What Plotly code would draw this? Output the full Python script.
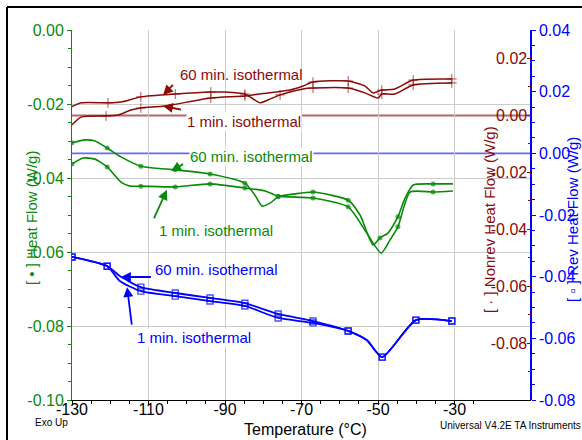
import plotly.graph_objects as go

# ---------------- data ----------------
# Total heat flow (left axis, W/g) - green
g60_T = [-130, -126.6, -124, -120.8, -117.2, -112, -103, -93.9, -84.8, -82.2, -80.3, -78.2, -76.1, -71.7,
         -67, -57.8, -54.7, -51.3, -49.5, -47.4, -44.8, -42.9, -40.8, -35.6, -30.4]
g60_v = [-0.0305, -0.0297, -0.0300, -0.0319, -0.0343, -0.0368, -0.0378, -0.0389, -0.0414, -0.0446, -0.0476,
         -0.0468, -0.0451, -0.0443, -0.0438, -0.0460, -0.0500, -0.0581, -0.0562, -0.0549, -0.0505, -0.0454,
         -0.0419, -0.0416, -0.0416]
g60_mark = [1, 0, 0, 1, 0, 1, 1, 1, 1, 0, 0, 0, 1, 0, 1, 1, 0, 0, 1, 0, 1, 0, 0, 1, 0]

g1_T = [-130, -127.1, -124, -120.8, -117.2, -114.8, -112, -103, -93.9, -84.8, -79.5, -76.1, -67, -57.8,
        -53.4, -49.2, -46.9, -44.8, -41.6, -35.6, -30.4]
g1_v = [-0.0362, -0.0346, -0.0349, -0.0370, -0.0411, -0.0422, -0.0422, -0.0424, -0.0416, -0.0427, -0.0435,
        -0.0449, -0.0454, -0.0478, -0.0541, -0.0603, -0.0568, -0.0532, -0.0438, -0.0438, -0.0435]
g1_mark = [1, 0, 0, 1, 0, 0, 1, 1, 1, 1, 0, 1, 1, 1, 0, 0, 0, 1, 0, 1, 0]

# Nonreversing heat flow (right inner axis, W/g) - dark red
r60_T = [-130.3, -127.6, -120.6, -117.2, -112, -103, -93.7, -90, -84.8, -83, -80.8, -78.8, -75.6, -69.6,
         -67, -57.8, -53.4, -50, -49, -45.6, -40.8, -30.7]
r60_v = [0.0029, 0.0044, 0.0044, 0.0047, 0.0065, 0.0075, 0.0082, 0.0082, 0.0075, 0.0061, 0.0044, 0.0054,
         0.0072, 0.0093, 0.0096, 0.0096, 0.0079, 0.0061, 0.0075, 0.0075, 0.0107, 0.0114]
r60_mark = [0, 0, 1, 0, 1, 1, 1, 0, 1, 0, 0, 0, 1, 0, 1, 1, 0, 0, 1, 0, 1, 1]

r1_T = [-130.3, -127.6, -121.1, -118, -114.6, -112, -105.7, -93.7, -84.8, -78.8, -73, -69.6, -67, -57.8,
        -53.4, -51.3, -49, -45.6, -40.8, -30.7]
r1_v = [-0.0037, -0.0006, -0.0002, 0.0001, 0.0019, 0.0026, 0.0033, 0.0061, 0.0068, 0.0079, 0.0089, 0.0103,
        0.0117, 0.0121, 0.0103, 0.0079, 0.0089, 0.0093, 0.0124, 0.0128]
r1_mark = [0, 0, 1, 0, 0, 1, 0, 1, 1, 0, 0, 0, 1, 1, 0, 0, 1, 0, 1, 1]

# Reversing heat flow (right outer axis, W/g) - blue
b_T = [-130, -120.8, -117.5, -112, -103, -93.9, -84.8, -76.1, -67, -57.8, -52.9, -48.9, -40.1, -30.7]
b60_v = [-0.0336, -0.0366, -0.0398, -0.0434, -0.0453, -0.0469, -0.0486, -0.0521, -0.0544, -0.0576,
         -0.0606, -0.0661, -0.0541, -0.0544]
b1_v = [-0.0336, -0.0366, -0.0414, -0.0447, -0.0463, -0.0479, -0.0495, -0.0534, -0.0550, -0.0576,
        -0.0606, -0.0661, -0.0541, -0.0544]
b_mark = [1, 1, 0, 1, 1, 1, 1, 1, 1, 1, 0, 1, 1, 1]

# ticks
x_ticks = [-130, -110, -90, -70, -50, -30, -10]
y1_ticks = [0.0, -0.02, -0.04, -0.06, -0.08, -0.10]
y2_ticks = [0.02, 0.0, -0.02, -0.04, -0.06, -0.08]
y3_ticks = [0.04, 0.02, 0.0, -0.02, -0.04, -0.06, -0.08]

GREEN = "#0a8a0a"
RED = "#8b0a0a"
BLUE = "#0000ff"
FONT = "Arial, 'Liberation Sans', sans-serif"


def fmt(v, d):
    s = f"{v:.{d}f}"
    return "0.00" if s == "-0.00" else s


def px_x(p):
    return (p - 72) / 459


def px_y(p):
    return (400 - p) / 370


fig = go.Figure()


def add_curve(T, v, mark, color, yaxis, symbol, msize, mline, width):
    sizes = [msize if m else 0 for m in mark]
    fig.add_trace(go.Scatter(
        x=T, y=v, yaxis=yaxis, mode="lines+markers",
        line=dict(color=color, width=width, shape="spline", smoothing=0.6),
        marker=dict(symbol=symbol, size=sizes, color=color,
                    line=dict(color=color, width=mline)),
        showlegend=False, hoverinfo="skip"))


add_curve(g60_T, g60_v, g60_mark, GREEN, "y", "circle", 5, 0, 1.6)
add_curve(g1_T, g1_v, g1_mark, GREEN, "y", "circle", 5, 0, 1.6)
add_curve(r60_T, r60_v, r60_mark, RED, "y2", "cross-thin-open", 7, 1, 1.5)
add_curve(r1_T, r1_v, r1_mark, RED, "y2", "cross-thin-open", 7, 1, 1.5)
add_curve(b_T, b60_v, b_mark, BLUE, "y3", "square-open", 6, 1.4, 1.8)
add_curve(b_T, b1_v, b_mark, BLUE, "y3", "square-open", 6, 1.4, 1.8)

# zero reference lines of the nonrev and rev signals
fig.add_shape(type="line", xref="paper", x0=0, x1=1, yref="y2", y0=0, y1=0,
              line=dict(color="rgba(150,40,40,0.7)", width=2), layer="below")
fig.add_shape(type="line", xref="paper", x0=0, x1=1, yref="y3", y0=0, y1=0,
              line=dict(color="rgba(40,40,255,0.7)", width=1.6), layer="below")

# outer frame (top + left)
fig.add_shape(type="line", xref="paper", yref="paper", x0=px_x(7), x1=px_x(590), y0=px_y(7), y1=px_y(7),
              line=dict(color="black", width=2))
fig.add_shape(type="line", xref="paper", yref="paper", x0=px_x(7), x1=px_x(7), y0=px_y(7), y1=px_y(445),
              line=dict(color="black", width=2))

ann = []
# labels
labels = [
    ("60 min. isothermal", -85.8, 0.0142, "y2", RED, False),
    ("1 min. isothermal", -85.0, -0.0020, "y2", RED, True),
    ("60 min. isothermal", -83.2, -0.0343, "y", GREEN, True),
    ("1 min. isothermal", -92.4, -0.0543, "y", GREEN, False),
    ("60 min. isothermal", -92.1, -0.0378, "y3", BLUE, False),
    ("1 min. isothermal", -98.1, -0.0596, "y3", BLUE, True),
]
for txt, x, y, yr, col, bg in labels:
    ann.append(dict(text=txt, x=x, y=y, xref="x", yref=yr, showarrow=False,
                    xanchor="center", yanchor="middle",
                    font=dict(family=FONT, size=15, color=col),
                    bgcolor="white" if bg else None, borderpad=0))
# arrows (head position, tail offset in px)
arrows = [
    (-106.2, 0.0072, "y2", 12, -12, RED),
    (-106.2, 0.0033, "y2", 20, 4, RED),
    (-104.1, -0.0381, "y", 14, -8, GREEN),
    (-105.2, -0.0432, "y", -14, 31, GREEN),
    (-117.2, -0.0401, "y3", 32, 0, BLUE),
    (-115.6, -0.0434, "y3", 5, 40, BLUE),
]
for x, y, yr, axp, ayp, col in arrows:
    ann.append(dict(text=" ", x=x, y=y, xref="x", yref=yr, ax=axp, ay=ayp,
                    showarrow=True, arrowhead=2, arrowsize=1.1, arrowwidth=1.8,
                    arrowcolor=col, font=dict(size=2), standoff=0))


def paper_text(text, px, py, size, color, angle=0):
    ann.append(dict(text=text, xref="paper", yref="paper", x=px_x(px), y=px_y(py),
                    xanchor="center", yanchor="middle", textangle=angle, showarrow=False,
                    font=dict(family=FONT, size=size, color=color)))


# axis titles and footer texts
paper_text("[ \u2022 ] Heat Flow (W/g)", 32, 218, 15, GREEN, -90)
paper_text("[ \u00b7 ] Nonrev Heat Flow (W/g)", 489, 220, 15, RED, -90)
paper_text("[ \u25ab ] Rev Heat Flow (W/g)", 572, 220, 15, BLUE, -90)
paper_text("Temperature (\u00b0C)", 305, 429, 16, "black")
paper_text("Exo Up", 51, 422, 10, "black")
paper_text("Universal V4.2E TA Instruments", 510, 425, 10, "black")

fig.update_layout(
    width=582, height=440,
    margin=dict(l=72, r=51, t=30, b=40),
    paper_bgcolor="white", plot_bgcolor="white",
    font=dict(family=FONT),
    annotations=ann,
    xaxis=dict(range=[-130, -10], tickvals=x_ticks, ticktext=[str(v) for v in x_ticks], automargin=False,
               ticks="outside", ticklen=4, tickcolor="black", showline=True, linecolor="black",
               linewidth=1, showgrid=True, gridcolor="#cccccc", gridwidth=1, zeroline=False,
               tickfont=dict(size=16, color="black"), ticklabelstandoff=-9,
               minor=dict(dtick=5, tick0=-130, ticks="outside", ticklen=3, tickcolor="black", showgrid=False)),
    yaxis=dict(range=[-0.10, 0.0], tickvals=y1_ticks, ticktext=[fmt(v, 2) for v in y1_ticks], automargin=False,
               ticks="outside", ticklen=4, tickcolor=GREEN, showline=True, linecolor=GREEN, linewidth=1,
               showgrid=True, gridcolor="#cccccc", zeroline=False,
               tickfont=dict(size=16, color=GREEN),
               minor=dict(dtick=0.005, tick0=0, ticks="outside", ticklen=3, tickcolor=GREEN, showgrid=False)),
    yaxis2=dict(range=[-0.10, 0.03], overlaying="y", side="right", anchor="x", automargin=False,
                tickvals=y2_ticks, ticktext=[fmt(v, 2) for v in y2_ticks],
                ticks="inside", ticklen=4, tickcolor=RED, ticklabelposition="inside",
                showline=False, showgrid=False, zeroline=False,
                tickfont=dict(size=16, color=RED),
                minor=dict(dtick=0.01, tick0=0, ticks="inside", ticklen=3, tickcolor=RED, showgrid=False)),
    yaxis3=dict(range=[-0.08, 0.04], overlaying="y", side="right", anchor="free", position=1, automargin=False,
                tickvals=y3_ticks, ticktext=[fmt(v, 2) for v in y3_ticks],
                ticks="outside", ticklen=4, tickcolor=BLUE, showline=True, linecolor=BLUE, linewidth=1.5,
                showgrid=False, zeroline=False,
                tickfont=dict(size=16, color=BLUE),
                minor=dict(dtick=0.005, tick0=0, ticks="outside", ticklen=3, tickcolor=BLUE, showgrid=False)),
)

fig.write_html("out.html")
